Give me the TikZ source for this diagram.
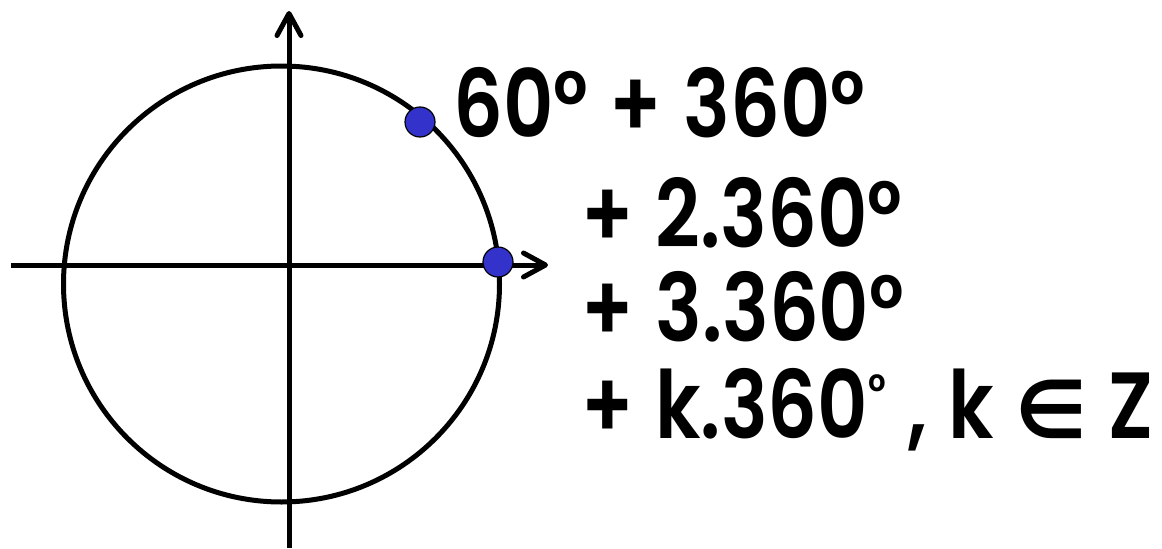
\documentclass[tikz,border=0pt]{standalone}
\usepackage{fontspec}
\setmainfont{Poppins}[FakeStretch=0.83, WordSpace=1.15, BoldFont={Poppins SemiBold}]
\newfontfamily\symbfont{DejaVu Sans}
\usetikzlibrary{arrows.meta}
\definecolor{dotblue}{RGB}{51,51,204}

\begin{document}
\begin{tikzpicture}[
  x=0.5pt, y=0.5pt,
  axis/.style={line width=2.5pt, -{Straight Barb[length=11pt, width=12pt, round]}},
  rim/.style={line width=2.5pt},
  pointdot/.style={circle, draw=black, line width=0.6pt, fill=dotblue, minimum size=15pt, inner sep=0},
  formula/.style={anchor=base west, inner sep=0, font=\fontsize{47}{56}\selectfont\bfseries},
]
  \useasboundingbox (0,0) rectangle (1162,548);

  % --- unit circle and axes ---
  \draw[rim] (281.5,264) circle (218);
  \coordinate (ybot) at (289,0);
  \coordinate (ytop) at (289,537);
  \coordinate (xleft) at (11,283);
  \coordinate (xright) at (548,283);
  \draw[axis] (ybot) -- (ytop);
  \draw[axis] (xleft) -- (xright);

  % --- points on the circle ---
  \node[pointdot] (p60) at (420,426) {};
  \node[pointdot] (p0)  at (498,286) {};

  % --- angle formulas ---
  \node[formula] (l1) at (453,411) {60° + 360°};
  \node[formula] (l2) at (581,301) {+ 2.360°};
  \node[formula] (l3) at (581,207) {+ 3.360°};
  \node[formula] (l4) at (581,110)
    {+ k.360{\fontsize{24}{24}\selectfont\raisebox{15pt}{°}} , k {\symbfont\fontsize{40}{40}\selectfont ∈} Z};
\end{tikzpicture}
\end{document}
